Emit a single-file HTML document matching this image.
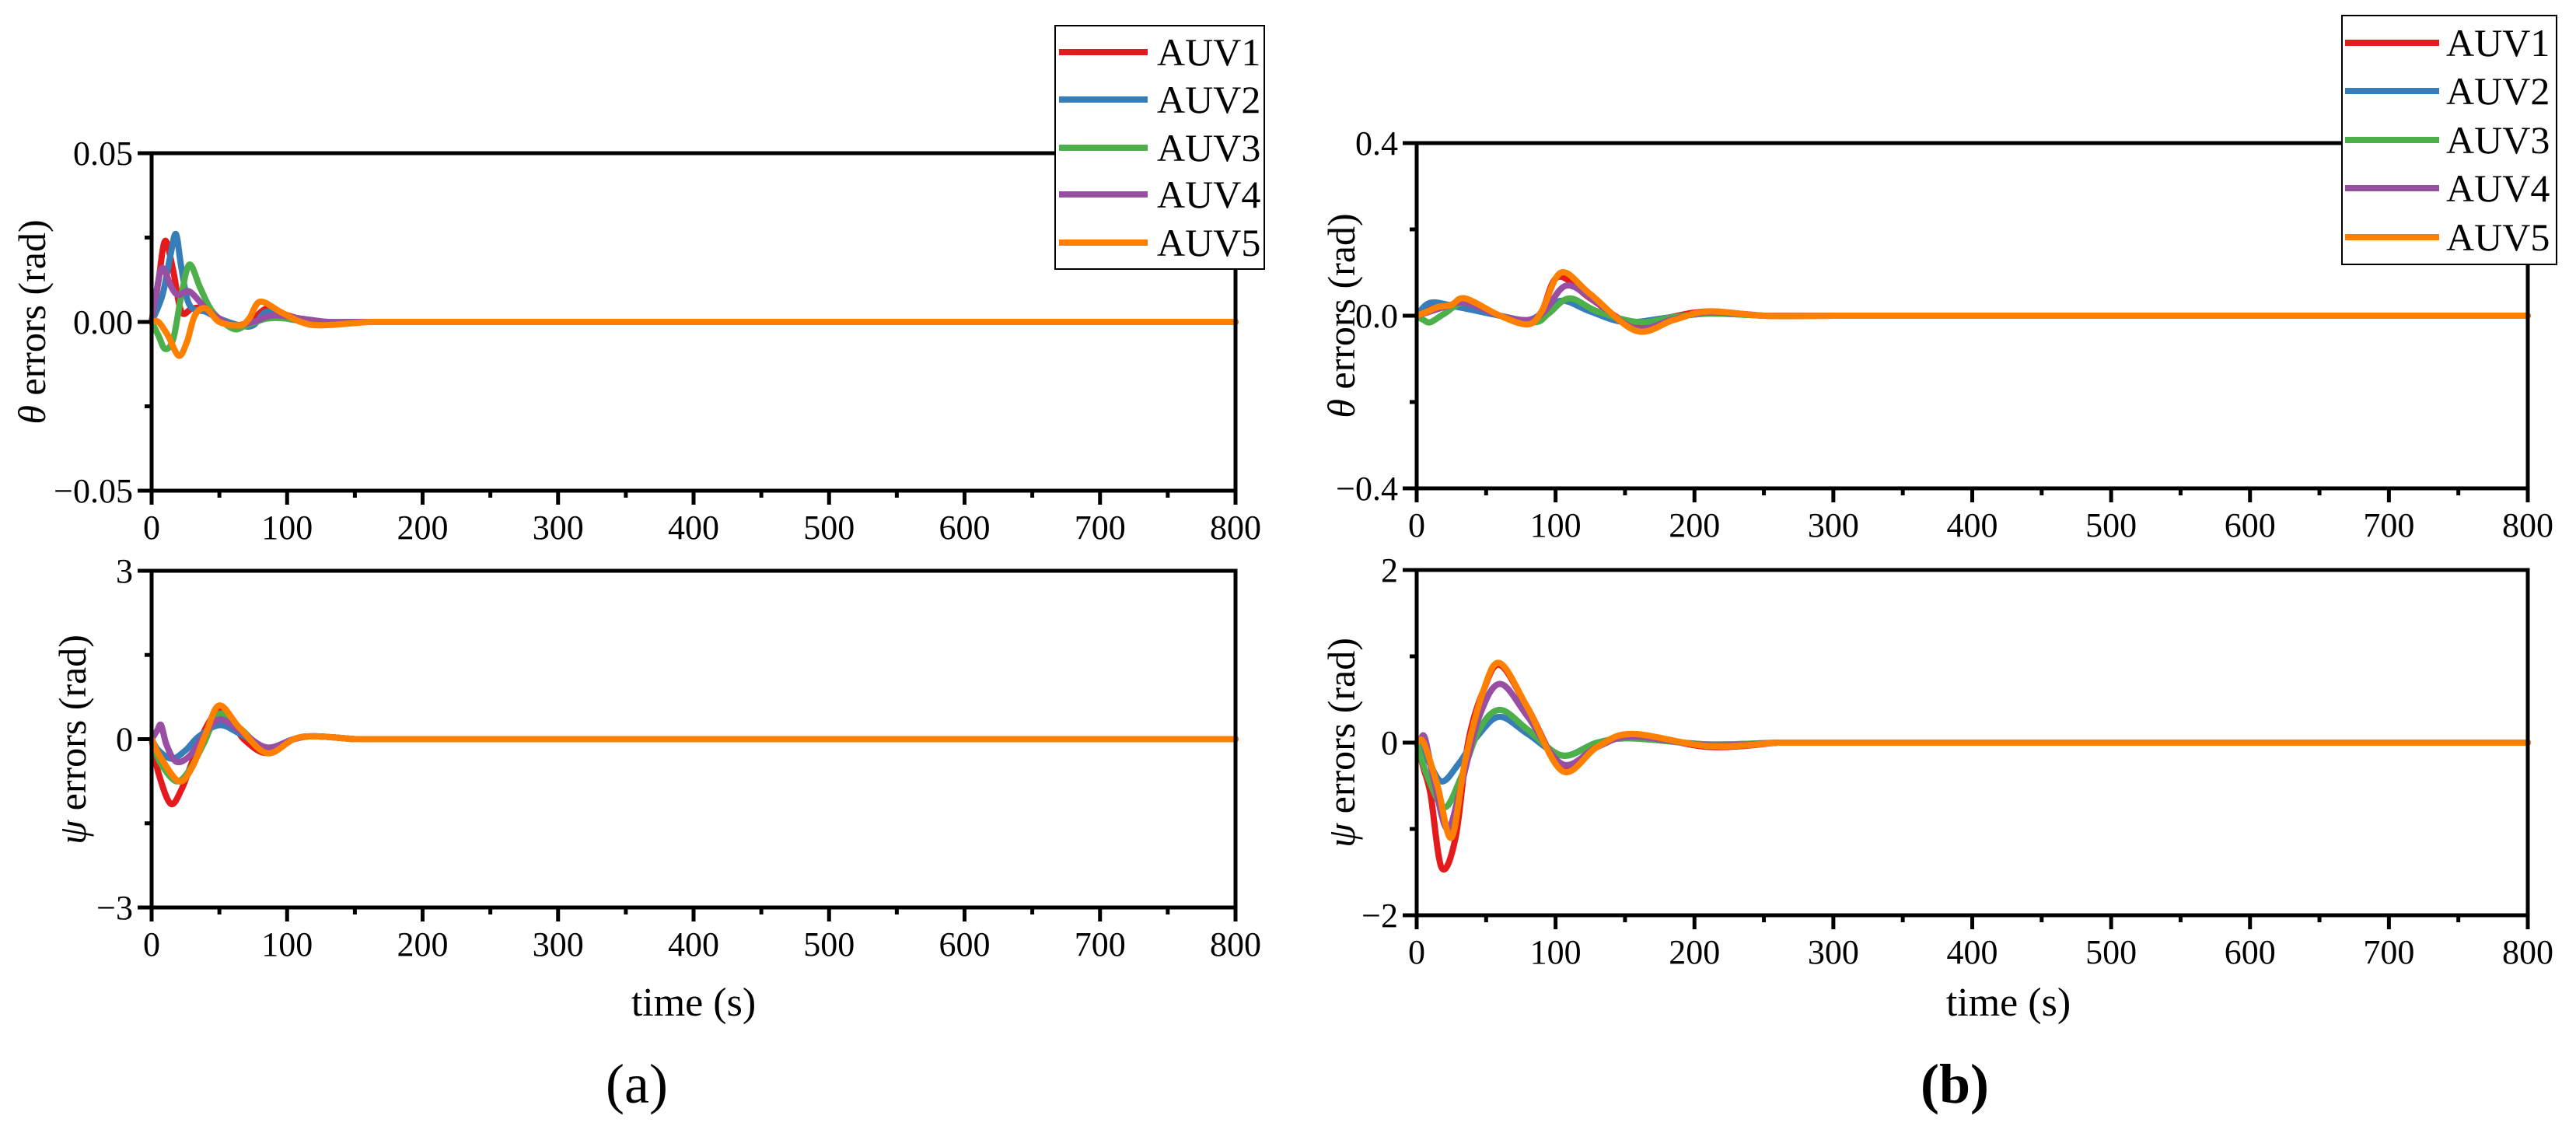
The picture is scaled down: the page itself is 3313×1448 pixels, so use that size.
<!DOCTYPE html>
<html><head><meta charset="utf-8"><style>
html,body{margin:0;padding:0;background:#fff;}
svg{display:block;font-family:"Liberation Serif",serif;}
</style></head><body>
<svg id="fig" width="3313" height="1448" viewBox="0 0 3313 1448" xmlns="http://www.w3.org/2000/svg"></svg>
<script>
const seriesNames=["AUV1","AUV2","AUV3","AUV4","AUV5"];
const colors=["#e41a1c","#377eb8","#4daf4a","#984ea3","#ff7f00"];
const xTicks=[0,100,200,300,400,500,600,700,800];
// panel a theta
const aThT=[[0,5,10,16,22,30,40,50,60,70,85,100,120,150],[0,8,14,18,22,28,40,50,65,75,85,100,120,150],[0,5,10,16,22,28,36,45,60,70,85,100,120,150],[0,4,8,15,20,28,40,50,60,75,90,110,130,150],[0,5,12,20,26,32,40,50,65,72,80,95,110,125,160]];
const aThV=[[0,0.012,0.024,0.015,0.003,0.004,0.004,0.001,-0.001,-0.001,0.004,0.002,0,0],[0,0.008,0.02,0.026,0.016,0.005,0.003,0.001,-0.001,-0.001,0.003,0.001,0,0],[0,-0.004,-0.008,-0.005,0.008,0.017,0.01,0.003,-0.002,-0.001,0.001,0.001,0,0],[0,0.01,0.016,0.01,0.008,0.009,0.004,0.001,-0.001,0,0.002,0.001,0,0],[0,0,-0.004,-0.01,-0.006,0.002,0.004,0,-0.001,0.001,0.006,0.003,0,-0.001,0]];
// panel a psi
const aPsT=[[0,5,14,22,30,40,50,60,68,85,105,120,150],[0,5,15,25,35,50,65,85,105,120,150],[0,6,18,28,38,50,65,85,105,120,150],[0,4,7,11,18,28,38,50,65,85,105,120,150],[0,6,20,30,40,50,65,85,105,120,150]];
const aPsV=[[0,-0.6,-1.15,-0.9,-0.4,0.2,0.5,0.3,0,-0.25,0,0.05,0],[0,-0.2,-0.35,-0.2,0.05,0.25,0.1,-0.15,0,0.05,0],[0,-0.4,-0.75,-0.55,-0.1,0.45,0.2,-0.2,0,0.05,0],[0,0.15,0.25,-0.1,-0.4,-0.3,0.05,0.35,0.15,-0.15,0,0.05,0],[0,-0.3,-0.75,-0.5,0.1,0.6,0.2,-0.25,0,0.05,0]];
// panel b theta
const bThT=[[0,8,15,25,35,60,80,90,102,125,155,180,210,250,300],[0,10,30,60,80,92,105,125,150,180,210,250],[0,5,10,20,35,60,85,95,110,130,160,185,210,250],[0,10,20,35,60,80,92,108,130,158,185,210,250],[0,8,15,25,35,60,80,90,104,125,158,185,210,250,300]];
const bThV=[[0,0.02,0.03,0.02,0.035,0,-0.015,0.01,0.09,0.04,-0.02,-0.005,0.01,0,0],[0,0.03,0.02,0,-0.01,0.01,0.035,0.01,-0.015,-0.005,0.005,0],[0,-0.01,-0.015,0.005,0.03,0,-0.015,0.005,0.04,0.01,-0.015,-0.003,0.005,0],[0,0.01,0.02,0.03,0,-0.01,0.01,0.07,0.03,-0.03,-0.008,0.008,0],[0,0.01,0.02,0.025,0.04,0,-0.02,0.01,0.1,0.05,-0.035,-0.01,0.01,0,0]];
// panel b psi
const bPsT=[[0,5,10,18,28,37,48,60,80,105,130,155,210,260],[0,8,18,30,45,60,80,105,130,155,210,260],[0,8,20,32,45,60,80,105,130,155,210,260],[0,3,6,12,22,32,45,60,80,105,130,155,210,260],[0,5,15,25,35,48,60,80,105,130,155,210,260]];
const bPsV=[[0,-0.3,-0.6,-1.45,-1.1,0,0.6,0.9,0.4,-0.3,-0.05,0.1,-0.05,0],[0,-0.2,-0.45,-0.25,0.1,0.3,0.1,-0.15,0,0.05,-0.02,0],[0,-0.4,-0.75,-0.4,0.15,0.38,0.15,-0.15,0,0.05,-0.02,0],[0,0.05,0.05,-0.4,-1.0,-0.5,0.3,0.68,0.3,-0.25,-0.05,0.07,-0.03,0],[0,0,-0.5,-1.1,-0.2,0.6,0.92,0.4,-0.33,-0.05,0.1,-0.04,0]];

const NS="http://www.w3.org/2000/svg";
const svg=document.getElementById('fig');
function mk(tag,attrs,parent){const e=document.createElementNS(NS,tag);for(const k in attrs)e.setAttribute(k,attrs[k]);(parent||svg).appendChild(e);return e;}
function smooth(pts){let d=`M${pts[0][0]},${pts[0][1]}`;for(let i=0;i<pts.length-1;i++){const p0=pts[Math.max(0,i-1)],p1=pts[i],p2=pts[i+1],p3=pts[Math.min(pts.length-1,i+2)];const c1=[p1[0]+(p2[0]-p0[0])/6,p1[1]+(p2[1]-p0[1])/6],c2=[p2[0]-(p3[0]-p1[0])/6,p2[1]-(p3[1]-p1[1])/6];d+=`C${c1[0]},${c1[1]} ${c2[0]},${c2[1]} ${p2[0]},${p2[1]}`;}return d;}

function panel(id,x0,x1,y0,y1,ymin,ymax,yTicks,yLabels,T,V){
  const g=mk('g',{});
  
  
  const sx=t=>x0+(t/800)*(x1-x0), sy=v=>y1-(v-ymin)/(ymax-ymin)*(y1-y0);
  for(let s=0;s<5;s++){
    const pts=T[s].map((t,i)=>[sx(t),sy(V[s][i])]);
    const d=smooth(pts)+`L${sx(800)},${sy(0)}`;
    const p=mk('path',{d:d,fill:'none',stroke:colors[s],'stroke-width':8,'stroke-linejoin':'round','stroke-linecap':'round'},g);
    
    
  }
  const fr=mk('rect',{x:x0,y:y0,width:x1-x0,height:y1-y0,fill:'none',stroke:'#000','stroke-width':5},g);
  
  
  for(let t=0;t<=800;t+=50){
    const maj=t%100===0;
    mk('line',{x1:sx(t),x2:sx(t),y1:y1,y2:y1+(maj?18:9),stroke:'#000','stroke-width':5},g);
  }
  xTicks.forEach(t=>{const tx=mk('text',{x:sx(t),y:y1+62,'font-size':44,'text-anchor':'middle'},g);tx.textContent=t;
    
    });
  const ym=(ymin+ymax)/2;
  [ymin,(ymin+ym)/2,ym,(ym+ymax)/2,ymax].forEach((v,i)=>{mk('line',{x1:x0,x2:x0-(i%2?9:18),y1:sy(v),y2:sy(v),stroke:'#000','stroke-width':5},g);});
  yTicks.forEach((v,i)=>{const tx=mk('text',{x:x0-24,y:sy(v)+15,'font-size':44,'text-anchor':'end'},g);tx.textContent=yLabels[i];
    
    });
  return g;
}
panel('theta-plot-a',195,1589,197,631,-0.05,0.05,[-0.05,0,0.05],["\u22120.05","0.00","0.05"],aThT,aThV);
panel('psi-plot-a',195,1589,734,1167,-3,3,[-3,0,3],["\u22123","0","3"],aPsT,aPsV);
panel('theta-plot-b',1822,3251,184,628,-0.4,0.4,[-0.4,0,0.4],["\u22120.4","0.0","0.4"],bThT,bThV);
panel('psi-plot-b',1822,3251,733,1177,-2,2,[-2,0,2],["\u22122","0","2"],bPsT,bPsV);

function ylabel(name,x,y,sym){const t=mk('text',{x:0,y:0,'font-size':50,'text-anchor':'middle',transform:`translate(${x},${y}) rotate(-90)`});
  t.innerHTML=`<tspan font-style="italic">${sym}</tspan> errors (rad)`;
  
  }
ylabel('theta-y-title-a',58,414,'\u03b8');
ylabel('psi-y-title-a',110,951,'\u03c8');
ylabel('theta-y-title-b',1742,406,'\u03b8');
ylabel('psi-y-title-b',1742,955,'\u03c8');
function txt(name,s,x,y,fs,w){const t=mk('text',{x:x,y:y,'font-size':fs,'text-anchor':'middle','font-weight':w||'normal'});t.textContent=s;
  
  }
txt('x-title-a','time (s)',892,1306,52);
txt('x-title-b','time (s)',2583,1306,52);
txt('caption-a','(a)',819,1418,72);
txt('caption-b','(b)',2514,1418,72,'bold');

function legend(name,bx,by,bw,bh,lx1,lx2,tx,ys){
  const g=mk('g',{});
  
  
  mk('rect',{x:bx,y:by,width:bw,height:bh,fill:'#fff',stroke:'#000','stroke-width':2},g);
  seriesNames.forEach((n,i)=>{
    const l=mk('line',{x1:lx1,x2:lx2,y1:ys[i],y2:ys[i],stroke:colors[i],'stroke-width':8},g);
    
    
    const t=mk('text',{x:tx,y:ys[i]+17,'font-size':50},g);t.textContent=n;
    
    
  });
}
legend('legend-a',1357,33,269,313,1362,1476,1488,[67,128,190,250,312]);
legend('legend-b',3012,20,276,320,3016,3137,3146,[55,117,180,242,305]);
</script>
</body></html>
